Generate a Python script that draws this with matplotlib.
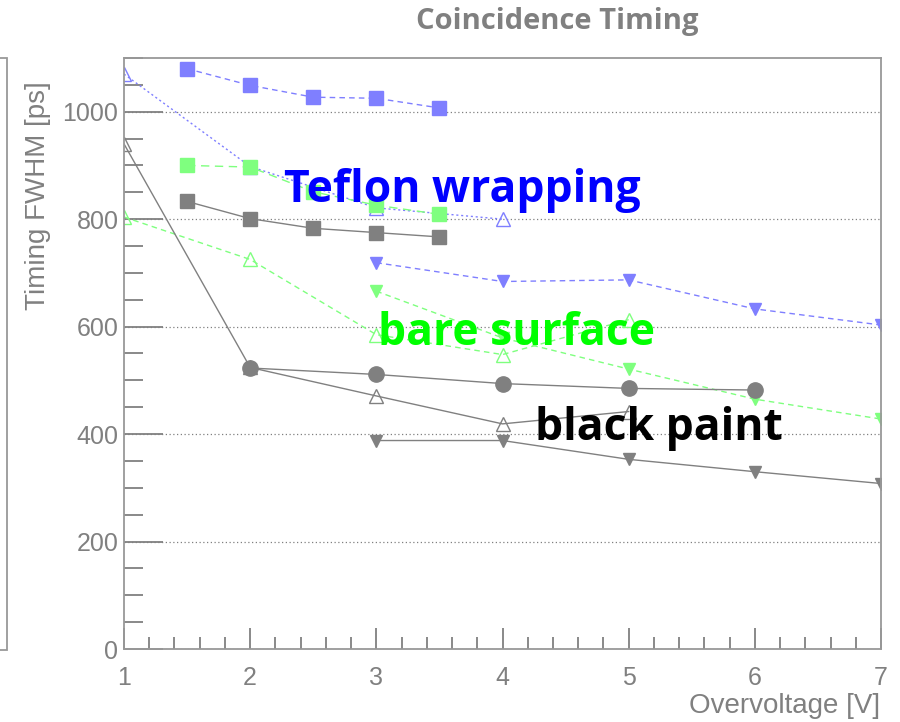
import matplotlib.pyplot as plt
from matplotlib.patches import Rectangle
from matplotlib.ticker import MultipleLocator

# overvoltage settings [V]
ov_half = [1.5, 2, 2.5, 3, 3.5]
ov_a = [1, 2, 3, 4, 5]
ov_b = [3, 4, 5, 6, 7]
ov_c = [2, 3, 4, 5, 6]
ov_d = [1, 2, 3, 4]

# timing FWHM [ps]
teflon_sq = [1080, 1049, 1027, 1025, 1007]
teflon_tri = [1070, 898, 821, 800]
teflon_dtri = [719, 684, 687, 633, 603]

bare_sq = [900, 897, 851, 826, 809]
bare_tri = [804, 725, 585, 548, 613]
bare_dtri = [666, 579, 521, 465, 428]

black_sq = [833, 801, 783, 775, 767]
black_tri = [940, 524, 471, 419, 442]
black_circ = [523, 511, 494, 485, 482]
black_dtri = [388, 388, 353, 330, 308]

blue = '#7f7fff'
green = '#7fff7f'
grey = '#808080'

plt.rcParams['font.family'] = ['Liberation Sans', 'DejaVu Sans']

fig = plt.figure(figsize=(9, 7.22), dpi=100)
ax = fig.add_axes([0.1378, 0.1011, 0.8411, 0.8186])

dash = (0, (4, 3))
dot = (0, (1.5, 2))

ax.plot(ov_half, teflon_sq, color=blue, ls=dash, lw=1, marker='s', ms=10, mec=blue)
ax.plot(ov_d, teflon_tri, color=blue, ls=dot, lw=1, marker='^', ms=10, mfc='none', mec=blue)
ax.plot(ov_b, teflon_dtri, color=blue, ls=dash, lw=1, marker='v', ms=9, mec=blue)

ax.plot(ov_half, bare_sq, color=green, ls=(0, (6, 4)), lw=1, marker='s', ms=10, mec=green)
ax.plot(ov_a, bare_tri, color=green, ls=dash, lw=1, marker='^', ms=10, mfc='none', mec=green)
ax.plot(ov_b, bare_dtri, color=green, ls=dash, lw=1, marker='v', ms=9, mec=green)

ax.plot(ov_half, black_sq, color=grey, lw=1, marker='s', ms=10)
ax.plot(ov_a, black_tri, color=grey, lw=1, marker='^', ms=10, mfc='none', mec=grey)
ax.plot(ov_c, black_circ, color=grey, lw=1, marker='o', ms=11)
ax.plot(ov_b, black_dtri, color=grey, lw=1, marker='v', ms=9)

ax.set_xlim(1, 7)
ax.set_ylim(0, 1100)
ax.xaxis.set_major_locator(MultipleLocator(1))
ax.xaxis.set_minor_locator(MultipleLocator(0.2))
ax.yaxis.set_major_locator(MultipleLocator(200))
ax.yaxis.set_minor_locator(MultipleLocator(50))

ax.grid(axis='y', which='major', color=grey, ls=(0, (1, 2)), lw=0.9)
ax.tick_params(which='both', direction='in', color=grey, width=1.3,
               top=False, right=False, labelcolor=grey, labelsize=18)
ax.tick_params(axis='x', which='major', length=15, pad=12)
ax.tick_params(axis='x', which='minor', length=9)
ax.tick_params(axis='y', which='major', length=28, pad=4)
ax.tick_params(axis='y', which='minor', length=14)
for s in ax.spines.values():
    s.set_color('#999999')
    s.set_linewidth(1.3)

lab = dict(fontsize=32, fontweight='bold', family='Open Sans')
ax.text(2.27, 832, 'Teflon wrapping', color='#0000ff', **lab)
ax.text(3.01, 566, 'bare surface', color='#00ff00', **lab)
ax.text(4.26, 389, 'black paint', color='black', **lab)

fig.text(557 / 900, 1 - 22 / 722, 'Coincidence Timing', color=grey,
         fontsize=21, fontweight='bold', family='Open Sans',
         ha='center', va='center')
fig.text(38 / 900, 1 - 196 / 722, 'Timing FWHM [ps]', color=grey,
         fontsize=20, rotation=90, ha='center', va='center')
fig.text(880 / 900, 1 - 706 / 722, 'Overvoltage [V]', color=grey,
         fontsize=20, ha='right', va='center')

# edge of the neighbouring pad on the left
fig.patches.append(Rectangle((-0.05, 1 - 650 / 722), 0.05 + 7 / 900,
                             (650 - 58) / 722, transform=fig.transFigure,
                             fill=False, ec='#999999', lw=1.3))

fig.savefig('out.png', dpi=100)
